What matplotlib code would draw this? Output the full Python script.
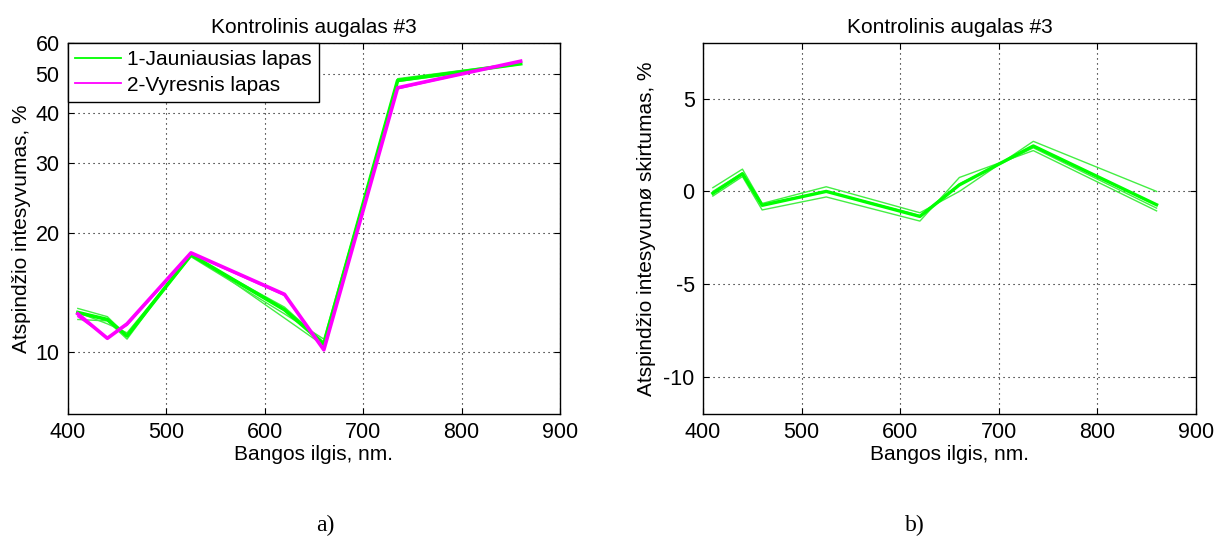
import matplotlib
matplotlib.use("Agg")
import matplotlib.pyplot as plt
from matplotlib.ticker import FixedLocator, NullLocator, FixedFormatter
from matplotlib.lines import Line2D

plt.rcParams['font.family'] = ['Liberation Sans', 'DejaVu Sans']
plt.rcParams['axes.unicode_minus'] = False

# ---- data ----
wavelengths = [410, 440, 460, 525, 620, 660, 735, 860]

# left panel: reflectance intensity, %
green_thin_1 = [12.9, 12.3, 11.0, 17.4, 12.5, 10.8, 48.0, 53.0]
green_thin_2 = [12.1, 12.0, 10.8, 17.8, 12.2, 10.4, 48.5, 53.2]
green_thin_3 = [12.6, 11.8, 11.2, 17.5, 13.0, 10.6, 48.8, 53.5]
green_mean = [12.6, 12.1, 11.0, 17.6, 12.8, 10.5, 48.3, 53.2]
magenta_thin_1 = [12.3, 10.9, 11.7, 17.7, 13.9, 10.2, 46.0, 54.1]
magenta_mean = [12.5, 10.85, 11.8, 17.8, 14.0, 10.15, 46.3, 54.0]

# right panel: difference of reflectance intensities, %
diff_thin_1 = [0.2, 1.2, -0.65, 0.25, -1.15, 0.0, 2.7, 0.0]
diff_thin_2 = [-0.25, 0.8, -1.0, -0.3, -1.6, 0.75, 2.2, -1.05]
diff_thin_3 = [0.0, 1.0, -0.7, 0.0, -1.3, 0.4, 2.35, -0.9]
diff_mean = [-0.1, 0.95, -0.75, 0.0, -1.35, 0.35, 2.45, -0.72]

title = "Kontrolinis augalas #3"
xlabel = "Bangos ilgis, nm."
ylabel_left = "Atspindžio intesyvumas, %"
ylabel_right = "Atspindžio intesyvumø skirtumas, %"
legend_labels = ["1-Jauniausias lapas", "2-Vyresnis lapas"]
xticks = [400, 500, 600, 700, 800, 900]
yticks_left = [10, 20, 30, 40, 50, 60]
yticks_right = [-10, -5, 0, 5]

GREEN = '#00ff00'
GREEN_THIN = '#44ee44'
MAGENTA = '#ff00ff'

fig = plt.figure(figsize=(12.28, 5.58), dpi=100)
axL = fig.add_axes([68/1228, 1-414/558, 492/1228, 371/558])
axR = fig.add_axes([703/1228, 1-414/558, 493/1228, 371/558])

def style(ax):
    ax.tick_params(direction='in', top=True, right=True, labelsize=15.5,
                   length=4, width=0.8, pad=6)
    ax.grid(True, which='major', linestyle=(0, (1, 3.5)), color='black', linewidth=0.8)
    for s in ax.spines.values():
        s.set_linewidth(1.0)
    ax.set_xlim(400, 900)
    ax.xaxis.set_major_locator(FixedLocator(xticks))
    ax.set_title(title, fontsize=15, pad=7)
    ax.set_xlabel(xlabel, fontsize=15, labelpad=1)

# left panel
axL.set_yscale('log')
for ys in (green_thin_1, green_thin_2, green_thin_3):
    axL.plot(wavelengths, ys, color=GREEN_THIN, lw=1.0)
axL.plot(wavelengths, magenta_thin_1, color=MAGENTA, lw=1.0)
axL.plot(wavelengths, green_mean, color=GREEN, lw=2.6)
axL.plot(wavelengths, magenta_mean, color=MAGENTA, lw=2.6)
axL.set_ylim(7, 60)
axL.yaxis.set_major_locator(FixedLocator(yticks_left))
axL.yaxis.set_major_formatter(FixedFormatter([str(v) for v in yticks_left]))
axL.yaxis.set_minor_locator(NullLocator())
style(axL)
axL.set_ylabel(ylabel_left, fontsize=15, labelpad=3)
h1 = Line2D([], [], color=GREEN, lw=1.3)
h2 = Line2D([], [], color=MAGENTA, lw=1.3)
leg = axL.legend([h1, h2], legend_labels, loc='upper left', fontsize=15,
                 fancybox=False, framealpha=1, edgecolor='black',
                 borderaxespad=0, handlelength=2.2, handletextpad=0.3,
                 borderpad=0.35, labelspacing=0.3)
leg.get_frame().set_linewidth(1.0)

# right panel
for ys in (diff_thin_1, diff_thin_2, diff_thin_3):
    axR.plot(wavelengths, ys, color=GREEN_THIN, lw=1.0)
axR.plot(wavelengths, diff_mean, color=GREEN, lw=2.4)
axR.set_ylim(-12, 8)
axR.yaxis.set_major_locator(FixedLocator(yticks_right))
style(axR)
axR.set_ylabel(ylabel_right, fontsize=15, labelpad=5)

fig.text(325/1228, 1-525/558, "a)", family=['Liberation Serif', 'DejaVu Serif'],
         fontsize=17, ha='center', va='center')
fig.text(915/1228, 1-525/558, "b)", family=['Liberation Serif', 'DejaVu Serif'],
         fontsize=17, ha='center', va='center')

fig.savefig("out.png", dpi=100, facecolor='white')
